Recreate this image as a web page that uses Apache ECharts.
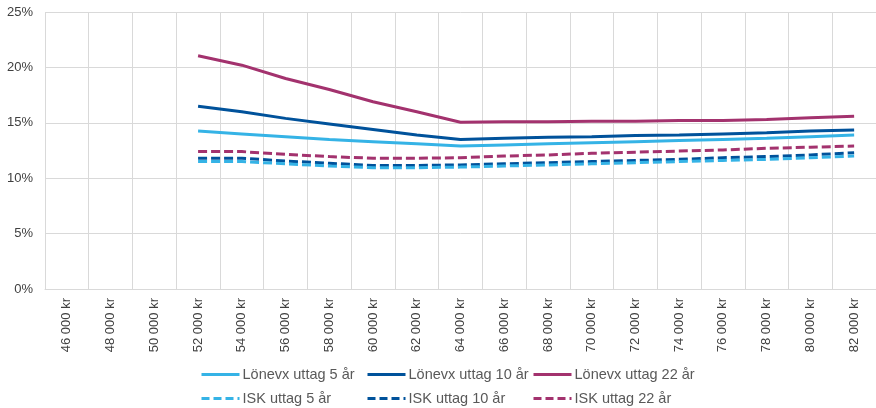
<!DOCTYPE html>
<html><head><meta charset="utf-8">
<script src="https://cdn.jsdelivr.net/npm/echarts@6/dist/echarts.min.js"></script>
<style>html,body{margin:0;padding:0;background:#fff}#c{width:876px;height:408px}</style>
</head><body><div id="c"></div>
<script>
const categories = ['46 000 kr','48 000 kr','50 000 kr','52 000 kr','54 000 kr','56 000 kr','58 000 kr','60 000 kr','62 000 kr','64 000 kr','66 000 kr','68 000 kr','70 000 kr','72 000 kr','74 000 kr','76 000 kr','78 000 kr','80 000 kr','82 000 kr'];
const yTicks = [0, 5, 10, 15, 20, 25];
const lon5  = [null,null,null,14.25,14.0,13.75,13.5,13.3,13.1,12.9,13.0,13.1,13.2,13.3,13.4,13.5,13.6,13.75,13.9];
const lon10 = [null,null,null,16.5,16.0,15.4,14.9,14.4,13.9,13.5,13.6,13.7,13.75,13.85,13.9,14.0,14.1,14.25,14.35];
const lon22 = [null,null,null,21.05,20.2,19.0,18.0,16.9,16.0,15.05,15.1,15.1,15.15,15.15,15.2,15.2,15.3,15.45,15.6];
const isk5  = [null,null,null,11.5,11.5,11.3,11.1,10.95,10.95,11.0,11.1,11.2,11.3,11.4,11.5,11.6,11.7,11.85,12.0];
const isk10 = [null,null,null,11.8,11.8,11.55,11.35,11.15,11.15,11.2,11.3,11.4,11.5,11.6,11.7,11.85,11.95,12.1,12.3];
const isk22 = [null,null,null,12.4,12.4,12.15,11.95,11.8,11.8,11.85,12.0,12.1,12.25,12.35,12.45,12.55,12.7,12.8,12.9];
const names = ['Lönevx uttag 5 år','Lönevx uttag 10 år','Lönevx uttag 22 år','ISK uttag 5 år','ISK uttag 10 år','ISK uttag 22 år'];

const C_LIGHT = '#35B3E6', C_DARK = '#00529B', C_MAG = '#A3326E';
const colors = [C_LIGHT, C_DARK, C_MAG, C_LIGHT, C_DARK, C_MAG];
const datas = [lon5, lon10, lon22, isk5, isk10, isk22];
const font = 'Liberation Sans, Arial, sans-serif';

const legendPos = [[200,367],[366,367],[532,367],[200,391],[366,391],[532,391]];
const chart = echarts.init(document.getElementById('c'), null, {renderer:'canvas'});
chart.setOption({
  animation: false,
  backgroundColor: '#fff',
  grid: {left: 45, right: 0, top: 12, bottom: 119, containLabel: false, outerBoundsMode: 'none'},
  legend: names.map((n, i) => ({
    data: [n], left: legendPos[i][0], top: legendPos[i][1],
    icon: 'inherit',
    itemWidth: 38, itemHeight: 14, itemGap: 0, padding: 0,
    itemStyle: {opacity: 0},
    lineStyle: {width: 3, type: i >= 3 ? [8, 4] : 'solid', cap: 'butt'},
    textStyle: {color: '#595959', fontSize: 14.5, fontFamily: font, padding: [0,0,0,-2]}
  })),
  xAxis: {
    type: 'category', data: categories, boundaryGap: true,
    axisLine: {show: true, lineStyle: {color: '#D9D9D9', width: 1}},
    axisTick: {show: false},
    splitLine: {show: true, lineStyle: {color: '#D9D9D9', width: 1}},
    axisLabel: {rotate: 90, margin: 9, color: '#404040', fontSize: 13, fontFamily: font, interval: 0}
  },
  yAxis: {
    type: 'value', min: yTicks[0], max: yTicks[yTicks.length-1], interval: 5,
    axisLine: {show: false}, axisTick: {show: false},
    splitLine: {show: true, lineStyle: {color: '#D9D9D9', width: 1}},
    axisLabel: {formatter: '{value}%', margin: 12, color: '#404040', fontSize: 13, fontFamily: font}
  },
  series: names.map((n, i) => ({
    name: n, type: 'line', data: datas[i], symbol: 'none', showSymbol: false,
    connectNulls: false, z: 10 - (i % 3),
    itemStyle: {color: colors[i]},
    lineStyle: {color: colors[i], width: 3, type: i >= 3 ? [9, 4] : 'solid', cap: 'butt'}
  }))
});
</script></body></html>
